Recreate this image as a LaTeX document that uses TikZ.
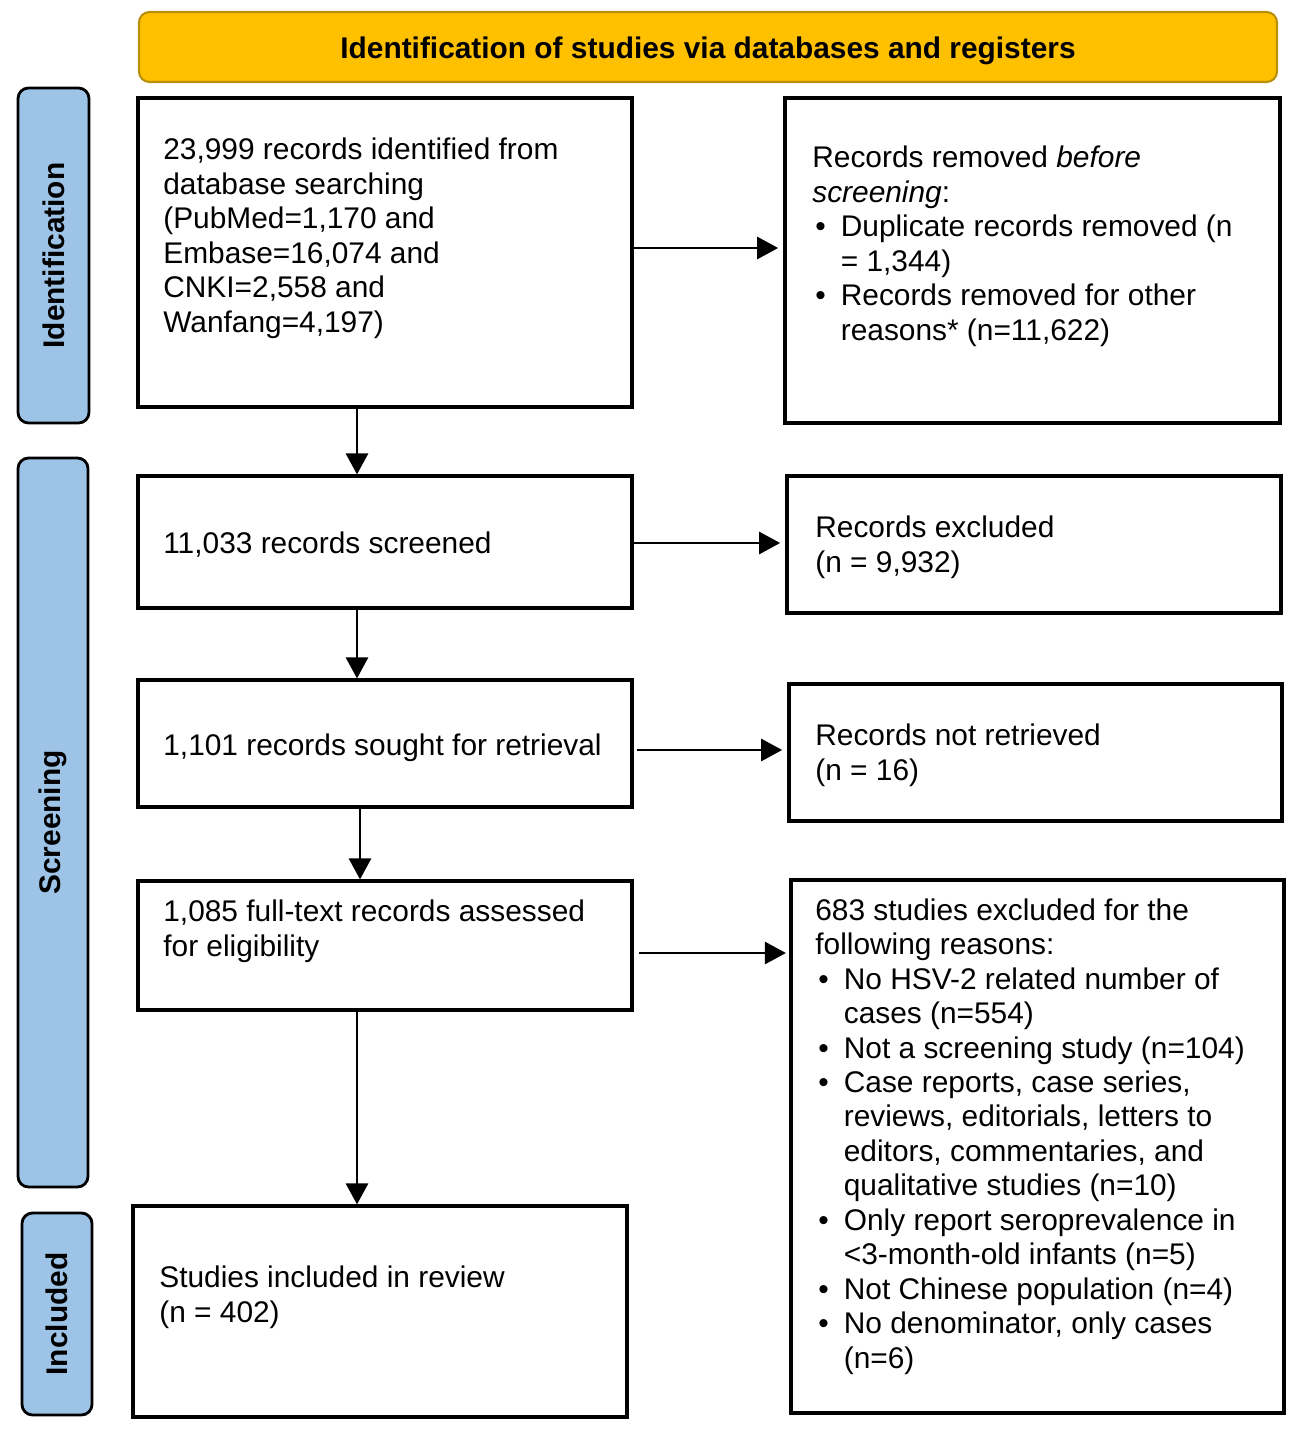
\documentclass[tikz,border=0pt]{standalone}
\usepackage{fontspec}
\setmainfont{Liberation Sans}
\usetikzlibrary{arrows.meta, positioning, fit}
\usepackage{xcolor}
\definecolor{hdrgold}{HTML}{FFC000}
\definecolor{hdredge}{HTML}{B8900A}
\definecolor{sideblue}{HTML}{9DC3E6}
\newcommand{\itm}{\makebox[0.57cm][l]{\hspace{0.06cm}\textbullet}}
\newcommand{\ind}{\hspace*{0.57cm}}

\begin{document}
\begin{tikzpicture}[
    x=0.02cm, y=-0.02cm,
    box/.style={draw, line width=1.8pt, inner sep=0pt},
    txt/.style={anchor=base west, align=left, inner sep=0pt, font=\fontsize{17}{19.6}\selectfont},
    hdr/.style={draw=hdredge, line width=1.2pt, rounded corners=6pt, fill=hdrgold, inner sep=0pt},
    side/.style={draw, line width=1.6pt, rounded corners=6pt, fill=sideblue, inner sep=0pt},
    phase/.style={rotate=90, inner sep=0pt, font=\fontsize{17}{20}\selectfont\bfseries},
    arr/.style={-{Triangle[length=0.42cm, width=0.44cm]}, line width=1.6pt},
]
\useasboundingbox (0,0) rectangle (1299,1433);

% Header
\node[hdr, fit={(139,12) (1277,82)}] (hdr) {};
\node[font=\fontsize{17}{20}\selectfont\bfseries] (hdrtxt) at (708,51) {Identification of studies via databases and registers};

% Phase labels
\node[side, fit={(18,88) (89,423)}] (sid) {};
\node[phase] (sidtxt) at (sid.center) {Identification};
\node[side, fit={(18,458) (88,1187)}] (sscr) {};
\node[phase] (sscrtxt) at (sscr.center) {Screening};
\node[side, fit={(22,1213) (92,1415)}] (sinc) {};
\node[phase] (sinctxt) at (sinc.center) {Included};

% Main column (text nodes sit on the baseline of their last line)
\node[box, fit={(138,98) (632,407)}] (ident) {};
\node[txt] (identtxt) at (163,332) {23,999 records identified from\\database searching\\(PubMed=1,170 and\\Embase=16,074 and\\CNKI=2,558 and\\Wanfang=4,197)};
\node[box, fit={(138,476) (632,608)}] (screen) {};
\node[txt] (screentxt) at (163,553) {11,033 records screened};
\node[box, fit={(138,680) (632,807)}] (sought) {};
\node[txt] (soughttxt) at (163,755) {1,101 records sought for retrieval};
\node[box, fit={(138,881) (632,1010)}] (elig) {};
\node[txt] (eligtxt) at (163,956) {1,085 full-text records assessed\\for eligibility};
\node[box, fit={(133,1206) (627,1417)}] (incl) {};
\node[txt] (incltxt) at (159,1322) {Studies included in review\\(n = 402)};

% Side column
\node[box, fit={(785,98) (1280,423)}] (removed) {};
\node[txt] (removedtxt) at (812,340) {Records removed \textit{before}\\\textit{screening}:\\\itm Duplicate records removed (n\\\ind = 1,344)\\\itm Records removed for other\\\ind reasons* (n=11,622)};
\node[box, fit={(787,476) (1281,613)}] (excl) {};
\node[txt] (excltxt) at (815,572) {Records excluded\\(n = 9,932)};
\node[box, fit={(789,684) (1282,821)}] (notret) {};
\node[txt] (notrettxt) at (815,780) {Records not retrieved\\(n = 16)};
\node[box, fit={(791,880) (1284,1413)}] (reasons) {};
\node[txt] (reasonstxt) at (815,1368) {683 studies excluded for the\\following reasons:\\\itm No HSV-2 related number of\\\ind cases (n=554)\\\itm Not a screening study (n=104)\\\itm Case reports, case series,\\\ind reviews, editorials, letters to\\\ind editors, commentaries, and\\\ind qualitative studies (n=10)\\\itm Only report seroprevalence in\\\ind <3-month-old infants (n=5)\\\itm Not Chinese population (n=4)\\\itm No denominator, only cases\\\ind (n=6)};

% Flow arrows
\coordinate (colL) at (357,0);
\draw[arr] (ident.south -| colL) -- (screen.north -| colL);
\draw[arr] (screen.south -| colL) -- (sought.north -| colL);
\draw[arr] (sought.south -| 360,0) -- (elig.north -| 360,0);
\draw[arr] (elig.south -| colL) -- (incl.north -| colL);

% Exclusion arrows
\draw[arr, shorten >=3pt] (ident.east |- 0,248) -- (removed.west |- 0,248);
\draw[arr, shorten >=3pt] (screen.east |- 0,543) -- (excl.west |- 0,543);
\draw[arr, shorten <=2pt, shorten >=3pt] (sought.east |- 0,750) -- (notret.west |- 0,750);
\draw[arr, shorten <=3pt, shorten >=2pt] (elig.east |- 0,953) -- (reasons.west |- 0,953);

\end{tikzpicture}
\end{document}
